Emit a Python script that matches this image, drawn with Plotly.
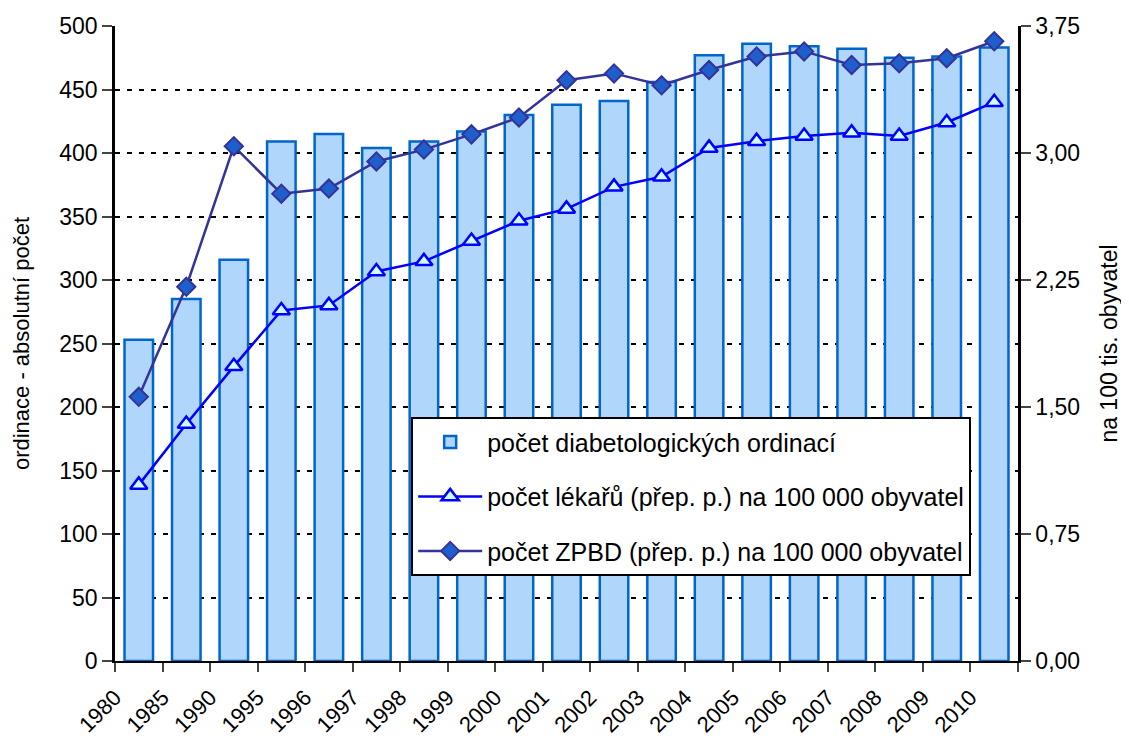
import plotly.graph_objects as go

years = ["1980", "1985", "1990", "1995", "1996", "1997", "1998", "1999", "2000", "2001",
         "2002", "2003", "2004", "2005", "2006", "2007", "2008", "2009", "2010"]
ordinace = [253, 285, 316, 409, 415, 404, 409, 417, 430, 438,
            441, 456, 477, 486, 484, 482, 475, 476, 483]
lekari = [1.04, 1.40, 1.74, 2.07, 2.10, 2.30, 2.36, 2.48, 2.60, 2.67,
          2.80, 2.86, 3.03, 3.07, 3.10, 3.12, 3.10, 3.18, 3.30]
zpbd = [1.56, 2.21, 3.04, 2.76, 2.79, 2.95, 3.02, 3.11, 3.21, 3.43,
        3.47, 3.40, 3.49, 3.57, 3.60, 3.52, 3.53, 3.56, 3.66]

xpos = list(range(len(years)))
FONT = "Liberation Sans, Arial, sans-serif"

fig = go.Figure()
fig.add_trace(go.Bar(
    x=xpos, y=ordinace, name="počet diabetologických ordinací",
    width=0.6, legendgroup="a",
    marker=dict(color="#B0D6FC", line=dict(color="#0066CC", width=2.5)),
))
fig.add_trace(go.Scatter(
    x=xpos, y=lekari, yaxis="y2", mode="lines+markers", legendgroup="b",
    name="počet lékařů (přep. p.) na 100 000 obyvatel",
    line=dict(color="#0000FF", width=2.5),
    marker=dict(symbol="triangle-up", size=15, color="#CCFFFF",
                line=dict(color="#0000FF", width=2.5)),
))
fig.add_trace(go.Scatter(
    x=xpos, y=zpbd, yaxis="y2", mode="lines+markers", legendgroup="c",
    name="počet ZPBD (přep. p.) na 100 000 obyvatel",
    line=dict(color="#333399", width=2.5),
    marker=dict(symbol="diamond", size=14, color="#1F5FCC",
                line=dict(color="#333399", width=2)),
))

tickvals = [i - 0.5 for i in xpos] + [len(years) - 0.5]
ticktext = years + [""]

fig.update_layout(
    width=1121, height=734,
    margin=dict(l=107, r=111, t=18, b=81),
    paper_bgcolor="white", plot_bgcolor="white",
    font=dict(family=FONT, size=23, color="black"),
    separators=", ",
    showlegend=True,
    legend=dict(x=0.328, y=0.384, xanchor="left", yanchor="top",
                bgcolor="white", bordercolor="black", borderwidth=2,
                font=dict(size=25), tracegroupgap=19, itemwidth=64),
    xaxis=dict(range=[-0.5, len(years) - 0.5], tickvals=tickvals, ticktext=ticktext,
               tickangle=-45, ticks="outside", ticklen=9, tickwidth=2,
               showline=True, linecolor="black", linewidth=2, showgrid=False,
               zeroline=False, tickfont=dict(size=22), ticklabelstandoff=4,
               automargin=False),
    yaxis=dict(range=[0, 500], dtick=50, ticks="outside", ticklen=10, tickwidth=2,
               showline=True, linecolor="black", linewidth=2.5,
               showgrid=True, gridcolor="black", gridwidth=2, griddash="5px,7px",
               zeroline=False, automargin=False,
               title=dict(text="ordinace - absolutní počet", standoff=24, font=dict(size=22))),
    yaxis2=dict(range=[0, 3.75], dtick=0.75, tickformat=".2f", overlaying="y", side="right",
                ticks="outside", ticklen=10, tickwidth=2, showline=True, linecolor="black",
                linewidth=2.5, showgrid=False, zeroline=False, automargin=False,
                title=dict(text="na 100 tis. obyvatel", standoff=22, font=dict(size=23))),
    bargap=0.4,
)

fig.write_html("out.html")
